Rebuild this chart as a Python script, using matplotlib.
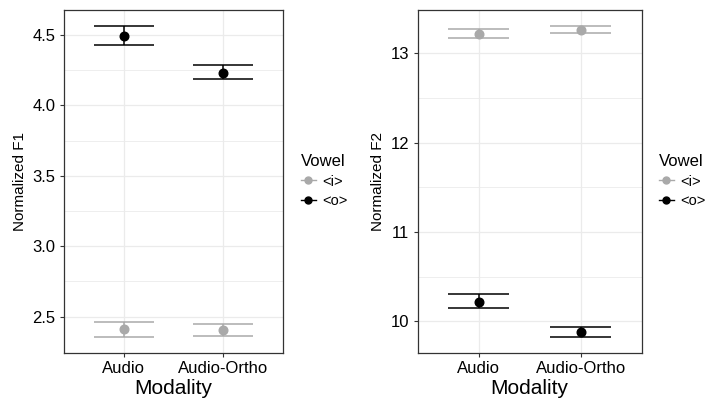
import matplotlib
matplotlib.use("Agg")
import matplotlib.pyplot as plt
from matplotlib.lines import Line2D
import numpy as np

plt.rcParams['font.family'] = ['Liberation Sans', 'DejaVu Sans']

modalities = ["Audio", "Audio-Ortho"]
vowels = ["<i>", "<o>"]
vowel_colors = ["#A9A9A9", "#000000"]

# F1
f1_mean = {"<i>": [2.41, 2.405], "<o>": [4.49, 4.233]}
f1_lo = {"<i>": [2.356, 2.363], "<o>": [4.431, 4.185]}
f1_hi = {"<i>": [2.460, 2.446], "<o>": [4.562, 4.285]}

# F2
f2_mean = {"<i>": [13.22, 13.26], "<o>": [10.22, 9.88]}
f2_lo = {"<i>": [13.175, 13.224], "<o>": [10.150, 9.828]}
f2_hi = {"<i>": [13.270, 13.305], "<o>": [10.306, 9.933]}

W, H = 711, 399
fig = plt.figure(figsize=(W / 100, H / 100), dpi=100)

def px_axes(x0, x1, y0, y1):
    return fig.add_axes([x0 / W, 1 - y1 / H, (x1 - x0) / W, (y1 - y0) / H])

ax1 = px_axes(64, 283, 10, 352.7)
ax2 = px_axes(417.7, 641.7, 10, 352.7)

def draw(ax, mean, lo, hi, ylim, yticks, minor, ylabel):
    x = np.arange(len(modalities))
    for v, c in zip(vowels, vowel_colors):
        for i in x:
            ax.hlines([lo[v][i], hi[v][i]], i - 0.3, i + 0.3, color=c, lw=1.1, zorder=3)
            ax.vlines(i, lo[v][i], hi[v][i], color=c, lw=1.1, zorder=3)
        ax.plot(x, mean[v], 'o', color=c, ms=6.2, zorder=4, ls='none')
    ax.set_xlim(-0.6, 1.6)
    ax.set_ylim(*ylim)
    ax.set_xticks(x)
    ax.set_xticklabels(modalities)
    ax.set_yticks(yticks)
    ax.set_yticks(minor, minor=True)
    ax.set_xticks([], minor=True)
    ax.grid(True, which='major', color='#EBEBEB', lw=0.9, zorder=0)
    ax.grid(True, which='minor', axis='y', color='#EBEBEB', lw=0.6, zorder=0)
    ax.set_axisbelow(True)
    for s in ax.spines.values():
        s.set_color('#333333')
        s.set_linewidth(0.9)
    ax.tick_params(axis='both', which='major', length=3, width=0.8, color='#333333',
                   labelsize=12, labelcolor='black', pad=3)
    ax.tick_params(axis='y', which='minor', length=0)
    ax.set_xlabel("Modality", fontsize=15, labelpad=2)
    ax.set_ylabel(ylabel, fontsize=11, labelpad=4)

draw(ax1, f1_mean, f1_lo, f1_hi, (2.244, 4.678), [2.5, 3.0, 3.5, 4.0, 4.5],
     [2.75, 3.25, 3.75, 4.25], "Normalized F1")
ax1.set_yticklabels(["2.5", "3.0", "3.5", "4.0", "4.5"])
draw(ax2, f2_mean, f2_lo, f2_hi, (9.648, 13.485), [10, 11, 12, 13],
     [10.5, 11.5, 12.5], "Normalized F2")

def legend(ax, xpx):
    handles = [Line2D([0], [0], color=c, marker='o', ms=5, lw=1.0) for c in vowel_colors]
    leg = ax.legend(handles, vowels, title="Vowel", loc='center left',
                    bbox_to_anchor=(xpx / W, 1 - 181 / H), bbox_transform=fig.transFigure,
                    frameon=False, fontsize=10.5, title_fontsize=12,
                    handlelength=1.0, handletextpad=0.45, labelspacing=0.4,
                    borderpad=0, borderaxespad=0)
    leg._legend_box.align = "left"

legend(ax1, 301)
legend(ax2, 659)

fig.savefig("out.png", dpi=100)
